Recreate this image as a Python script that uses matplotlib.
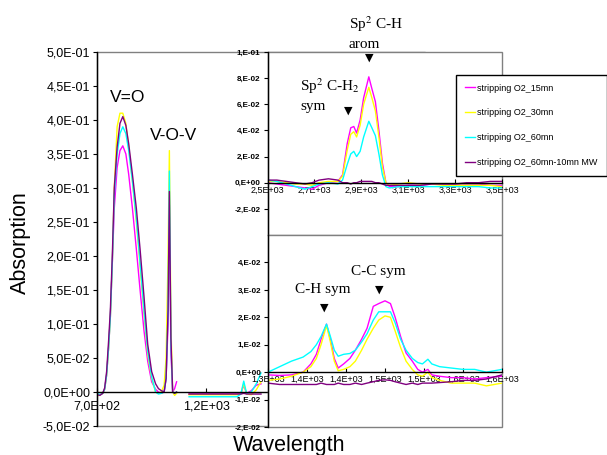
import numpy as np
import matplotlib
matplotlib.use("Agg")
import matplotlib.pyplot as plt
from matplotlib.patches import Rectangle

plt.rcParams['font.family'] = ['Liberation Sans', 'DejaVu Sans']
plt.rcParams['mathtext.fontset'] = 'stix'

series_names = ["stripping O2_15mn", "stripping O2_30mn", "stripping O2_60mn", "stripping O2_60mn-10mn MW"]
series_colors = ["#FF00FF", "#FFFF00", "#00FFFF", "#800080"]

# ---------------- main panel (V=O / V-O-V region) ----------------
nan = np.nan
main_x = [700, 713, 726, 735, 744, 753, 761, 770, 779, 792, 805, 818, 832, 845, 862, 880, 897,
          915, 932, 950, 968, 981, 994, 1007, 1016, 1025, 1031, 1038, 1046, 1055, 1064,
          1090,
          1121, 1174, 1218, 1261, 1305, 1340, 1358, 1371, 1384, 1406, 1428, 1450]
main_15 = [-0.004, -0.004, -0.002, 0.004, 0.025, 0.065, 0.11, 0.19, 0.27, 0.33, 0.355, 0.362, 0.35, 0.32, 0.27, 0.21, 0.15,
           0.09, 0.045, 0.015, 0.004, 0.0, -0.002, 0.0, 0.02, 0.10, 0.275, 0.06, 0.0, 0.005, 0.015,
           nan,
           -0.003, -0.003, -0.003, -0.003, -0.003, -0.003, -0.002, 0.010, -0.002, 0.002, 0.010, 0.012]
main_30 = [-0.006, -0.004, -0.002, 0.004, 0.025, 0.065, 0.11, 0.19, 0.30, 0.39, 0.41, 0.41, 0.395, 0.36, 0.31, 0.25, 0.185,
           0.115, 0.055, 0.02, 0.0, -0.002, 0.0, 0.01, 0.05, 0.20, 0.355, 0.10, 0.0, -0.005, -0.002,
           nan,
           -0.004, -0.004, -0.004, -0.004, -0.004, -0.004, -0.003, 0.012, -0.003, -0.004, 0.003, 0.015]
main_60 = [-0.002, -0.004, -0.002, 0.004, 0.025, 0.065, 0.11, 0.19, 0.29, 0.35, 0.38, 0.39, 0.38, 0.355, 0.31, 0.255, 0.19,
           0.12, 0.06, 0.022, 0.0, -0.003, -0.002, 0.0, 0.02, 0.12, 0.325, 0.07, 0.0, -0.002, 0.0,
           nan,
           -0.007, -0.007, -0.007, -0.007, -0.007, -0.007, -0.003, 0.016, -0.002, 0.0, 0.012, 0.028]
main_mw = [-0.004, -0.005, -0.002, 0.006, 0.03, 0.075, 0.12, 0.20, 0.30, 0.36, 0.395, 0.405, 0.392, 0.365, 0.32, 0.27, 0.21,
           0.14, 0.07, 0.03, 0.012, 0.005, 0.002, 0.0, 0.02, 0.12, 0.295, 0.08, 0.0, -0.002, 0.0,
           nan,
           -0.003, -0.003, -0.003, -0.003, -0.003, -0.003, -0.003, -0.002, -0.003, -0.003, -0.003, -0.003]

main_yticks = [-0.05, 0.0, 0.05, 0.10, 0.15, 0.20, 0.25, 0.30, 0.35, 0.40, 0.45, 0.50]
main_yticklabels = ["-5,0E-02", "0,0E+00", "5,0E-02", "1,0E-01", "1,5E-01", "2,0E-01", "2,5E-01",
                    "3,0E-01", "3,5E-01", "4,0E-01", "4,5E-01", "5,0E-01"]
main_xticks = [700, 1200, 1700, 2200]
main_xticklabels = ["7,0E+02", "1,2E+03", "1,7E+03", "2,2E+03"]

# ---------------- top inset (C-H stretching region) ----------------
top_x = [2500, 2540, 2580, 2620, 2660, 2690, 2720, 2760, 2800, 2820, 2840, 2855, 2868, 2880, 2895, 2910,
         2932, 2945, 2960, 2975, 2990, 3005, 3020, 3060, 3100, 3150, 3200, 3250, 3300, 3350, 3400, 3450, 3500]
top_15 = [0.0, -0.001, -0.002, -0.003, -0.004, -0.005, -0.002, 0.0, 0.001, 0.006, 0.030, 0.042, 0.043, 0.038, 0.048, 0.065,
          0.081, 0.072, 0.062, 0.040, 0.015, 0.0, -0.003, -0.003, -0.002, -0.002, -0.001, -0.001, -0.001, -0.001, -0.001, -0.002, -0.002]
top_30 = [0.001, 0.001, 0.0, -0.001, -0.001, -0.002, 0.0, 0.001, 0.001, 0.005, 0.025, 0.037, 0.039, 0.035, 0.044, 0.060,
          0.073, 0.065, 0.055, 0.035, 0.012, 0.0, -0.002, -0.001, 0.0, -0.001, -0.001, -0.002, -0.002, -0.002, -0.002, -0.002, -0.003]
top_60 = [0.002, 0.001, -0.001, -0.003, -0.005, -0.003, -0.001, 0.0, -0.001, 0.002, 0.014, 0.022, 0.024, 0.020, 0.024, 0.035,
          0.047, 0.042, 0.036, 0.022, 0.006, -0.003, -0.004, -0.003, -0.003, -0.003, -0.003, -0.003, -0.003, -0.003, -0.003, -0.004, -0.004]
top_mw = [0.002, 0.002, 0.001, 0.0, -0.001, 0.0, 0.002, 0.003, 0.002, 0.0, 0.0, -0.001, 0.0, 0.0, 0.001, 0.001,
          0.001, 0.001, 0.0, 0.0, -0.001, -0.002, -0.002, -0.002, -0.002, -0.002, -0.001, -0.001, -0.001, 0.0, 0.0, 0.001, 0.001]
top_yticks = [-0.02, 0.0, 0.02, 0.04, 0.06, 0.08, 0.10]
top_yticklabels = ["-2,E-02", "0,E+00", "2,E-02", "4,E-02", "6,E-02", "8,E-02", "1,E-01"]
top_xticks = [2500, 2700, 2900, 3100, 3300, 3500]
top_xticklabels = ["2,5E+03", "2,7E+03", "2,9E+03", "3,1E+03", "3,3E+03", "3,5E+03"]

# ---------------- bottom inset (fingerprint region) ----------------
bot_x = [1300, 1315, 1330, 1345, 1355, 1362, 1368, 1375, 1380, 1385, 1390, 1397, 1405, 1412, 1420, 1427, 1435,
         1442, 1450, 1457, 1463, 1470, 1477, 1485, 1492, 1498, 1505, 1510, 1520, 1535, 1550, 1565, 1580, 1600]
bot_15 = [-0.001, -0.0012, -0.001, 0.0, 0.003, 0.0065, 0.012, 0.0175, 0.012, 0.005, 0.0015, 0.003, 0.005, 0.008, 0.012, 0.016, 0.024,
          0.025, 0.026, 0.025, 0.020, 0.013, 0.007, 0.004, 0.001, 0.0, 0.001, -0.001, -0.0015, -0.002, -0.002, -0.0025, -0.002, -0.0015]
bot_30 = [-0.003, -0.0025, -0.0015, 0.0, 0.002, 0.005, 0.010, 0.017, 0.011, 0.004, 0.0005, 0.001, 0.002, 0.004, 0.008, 0.012, 0.016,
          0.019, 0.0205, 0.020, 0.015, 0.009, 0.004, 0.001, -0.001, -0.0015, 0.0, -0.002, -0.003, -0.004, -0.004, -0.004, -0.005, -0.004]
bot_60 = [0.0, 0.002, 0.004, 0.0055, 0.0075, 0.010, 0.013, 0.0175, 0.013, 0.008, 0.0058, 0.0065, 0.0068, 0.008, 0.011, 0.014, 0.019,
          0.022, 0.022, 0.022, 0.018, 0.012, 0.008, 0.005, 0.0035, 0.003, 0.0047, 0.003, 0.002, 0.0015, 0.001, 0.001, 0.0, 0.001]
bot_mw = [-0.004, -0.0045, -0.0045, -0.0045, -0.0045, -0.0045, -0.004, -0.0045, -0.0045, -0.0045, -0.004, -0.0045, -0.0045, -0.004, -0.0045, -0.004, -0.0035,
          -0.003, -0.0028, -0.003, -0.0035, -0.004, -0.0045, -0.004, -0.0045, -0.004, -0.004, -0.004, -0.0038, -0.0035, -0.003, -0.003, -0.0025, -0.001]
bot_yticks = [-0.02, -0.01, 0.0, 0.01, 0.02, 0.03, 0.04]
bot_yticklabels = ["-2,E-02", "-1,E-02", "0,E+00", "1,E-02", "2,E-02", "3,E-02", "4,E-02"]
bot_xticks = [1300, 1350, 1400, 1450, 1500, 1550, 1600]
bot_xticklabels = ["1,3E+03", "1,4E+03", "1,4E+03", "1,5E+03", "1,5E+03", "1,6E+03", "1,6E+03"]

W, H = 607, 455
fig = plt.figure(figsize=(W / 100, H / 100), dpi=100)

def fr(x0, y0, x1, y1):
    return [x0 / W, 1 - y1 / H, (x1 - x0) / W, (y1 - y0) / H]

GREY = "#808080"

def style(ax, xt, xtl, yt, ytl, xfs, yfs, yweight="normal", xpad=2):
    for s in ["top", "right"]:
        ax.spines[s].set_visible(False)
    ax.spines["left"].set_color("black")
    ax.spines["left"].set_linewidth(1.0)
    ax.spines["bottom"].set_position(("data", 0))
    ax.spines["bottom"].set_color("black")
    ax.spines["bottom"].set_linewidth(1.0)
    ax.add_patch(Rectangle((0, 0), 1, 1, transform=ax.transAxes, fill=False,
                           edgecolor=GREY, linewidth=1.0, zorder=0.5, clip_on=False))
    ax.set_xticks(xt)
    ax.set_xticklabels(xtl, fontsize=xfs)
    ax.set_yticks(yt)
    ax.set_yticklabels(ytl, fontsize=yfs, fontweight=yweight)
    ax.tick_params(axis="x", direction="in", length=3, pad=xpad, width=0.8)
    ax.tick_params(axis="y", direction="out", length=3, pad=2, width=0.8)

# main
ax = fig.add_axes(fr(97, 52, 425, 426))
lines = []
for ys, c, n in zip([main_15, main_30, main_60, main_mw], series_colors, series_names):
    l, = ax.plot(main_x, ys, color=c, lw=1.0, label=n)
    lines.append(l)
ax.set_xlim(700, 2140)
ax.set_ylim(-0.05, 0.5)
style(ax, main_xticks, main_xticklabels, main_yticks, main_yticklabels, 9, 9, xpad=6)
ax.text(838, 0.433, "V=O", fontsize=12.5, ha="center", va="center")
ax.text(1050, 0.377, "V-O-V", fontsize=12.5, ha="center", va="center")

# top inset
axt = fig.add_axes(fr(267.5, 52, 502, 235))
axt.set_facecolor("white")
for ys, c in zip([top_15, top_30, top_60, top_mw], series_colors):
    axt.plot(top_x, ys, color=c, lw=1.0)
axt.set_xlim(2500, 3500)
axt.set_ylim(-0.04, 0.10)
style(axt, top_xticks, top_xticklabels, top_yticks, top_yticklabels, 6.5, 5.8, "bold")
sf = dict(family=["Liberation Serif", "DejaVu Serif"], fontsize=11)
axt.text(2846, 0.1215, "Sp$^2$ C-H", ha="left", va="center", clip_on=False, **sf)
axt.text(2846, 0.1055, "arom", ha="left", va="center", clip_on=False, **sf)
axt.text(2932, 0.0955, "▼", ha="center", va="center", fontsize=8, family="DejaVu Sans")
axt.text(2640, 0.074, "Sp$^2$ C-H$_2$", ha="left", va="center", **sf)
axt.text(2640, 0.058, "sym", ha="left", va="center", **sf)
axt.text(2846, 0.055, "▼", ha="center", va="center", fontsize=8, family="DejaVu Sans")

# bottom inset
axb = fig.add_axes(fr(268, 235, 502, 427))
axb.set_facecolor("white")
for ys, c in zip([bot_15, bot_30, bot_60, bot_mw], series_colors):
    axb.plot(bot_x, ys, color=c, lw=1.0)
axb.set_xlim(1300, 1600)
axb.set_ylim(-0.02, 0.05)
style(axb, bot_xticks, bot_xticklabels, bot_yticks, bot_yticklabels, 6.5, 5.8, "bold")
axb.text(1442, 0.0367, "C-C sym", ha="center", va="center", **sf)
axb.text(1370, 0.0302, "C-H sym", ha="center", va="center", **sf)
axb.text(1372, 0.0236, "▼", ha="center", va="center", fontsize=8, family="DejaVu Sans")
axb.text(1442, 0.0302, "▼", ha="center", va="center", fontsize=8, family="DejaVu Sans")

# legend
leg = fig.legend(handles=lines, loc="upper left", bbox_to_anchor=(451 / W, 1 - 70 / H),
                 fontsize=6.5, frameon=True, fancybox=False, framealpha=1, edgecolor="black",
                 handlelength=1.2, handletextpad=0.2, labelspacing=1.75, borderpad=1.0)
leg.get_frame().set_linewidth(1.0)

fig.text(20 / W, 1 - 243 / H, "Absorption", rotation=90, fontsize=15.5, ha="center", va="center")
fig.text(289 / W, 1 - 446 / H, "Wavelength", fontsize=15.5, ha="center", va="center")

fig.savefig("out.png", dpi=100)
